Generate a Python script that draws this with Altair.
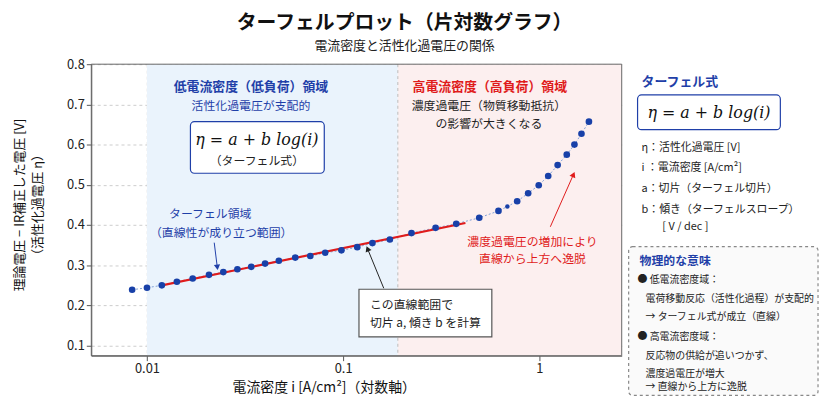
import math
import altair as alt
import pandas as pd

FONT = "Noto Sans CJK JP"
BLUE = "#1f3fa8"
RED = "#e01b1b"

# measured points
current = [0.0084, 0.010, 0.0119, 0.0142, 0.0171, 0.0207, 0.0245, 0.0289, 0.034, 0.040,
           0.047, 0.057, 0.068, 0.081, 0.098, 0.118, 0.141, 0.173, 0.223, 0.296, 0.377,
           0.494, 0.619, 0.687, 0.771, 0.877, 0.993, 1.11, 1.24, 1.38, 1.51, 1.64, 1.79]
voltage = [0.239, 0.244, 0.250, 0.259, 0.267, 0.276, 0.283, 0.290, 0.296, 0.304,
           0.311, 0.319, 0.323, 0.331, 0.337, 0.345, 0.355, 0.364, 0.380, 0.393, 0.403,
           0.418, 0.435, 0.446, 0.459, 0.479, 0.499, 0.522, 0.549, 0.575, 0.600, 0.627, 0.657]
point_size = [45] * 23 + [20] + [45] * 9

fit_x = [0.0119, 0.42]
fit_y = [0.250, 0.405]

low_region = [0.01, 0.19]
high_region = [0.19, 2.63]

x_dom = [0.0052, 2.63]
y_dom = [0.075, 0.8]
W, H = 535, 294

df = pd.DataFrame({"i": current, "v": voltage, "s": point_size})
xs = alt.Scale(type="log", domain=x_dom, nice=False)
ys = alt.Scale(domain=y_dom, nice=False, zero=False)

regions = pd.DataFrame({"x": [low_region[0], high_region[0]], "x2": [low_region[1], high_region[1]],
                        "c": ["#eaf3fc", "#fcefef"]})
bg = alt.Chart(regions).mark_rect().encode(
    x=alt.X("x:Q", scale=xs), x2="x2", y=alt.value(0), y2=alt.value(H),
    color=alt.Color("c:N", scale=None))

divider = alt.Chart(pd.DataFrame({"x": [low_region[1]]})).mark_rule(
    strokeDash=[3, 3], color="#bbbbbb").encode(x=alt.X("x:Q", scale=xs))

dotted = alt.Chart(df).mark_line(strokeDash=[2, 2], color="#7f9fd6", strokeWidth=1).encode(
    x=alt.X("i:Q", scale=xs), y=alt.Y("v:Q", scale=ys))

fit = alt.Chart(pd.DataFrame({"i": fit_x, "v": fit_y})).mark_line(color=RED, strokeWidth=2.2).encode(
    x=alt.X("i:Q", scale=xs), y=alt.Y("v:Q", scale=ys))

points = alt.Chart(df).mark_circle(color="#1840a8", opacity=1).encode(
    x=alt.X("i:Q", scale=xs,
            axis=alt.Axis(values=[0.01, 0.1, 1], format="~g", title=None, grid=True,
                          gridDash=[3, 3], gridColor="#cccccc", labelFont=FONT, labelFontSize=13,
                          labelColor="#222", tickColor="#555", domainColor="#555")),
    y=alt.Y("v:Q", scale=ys,
            axis=alt.Axis(values=[0.1, 0.2, 0.3, 0.4, 0.5, 0.6, 0.7, 0.8], format=".1f", title=None,
                          grid=True, gridDash=[3, 3], gridColor="#cccccc", labelFont=FONT,
                          labelFontSize=13, labelColor="#222", tickColor="#555", domainColor="#555")),
    size=alt.Size("s:Q", scale=None))


def txt(s, x, y, size=12, color="#222", weight="normal", align="center", font=FONT,
        style="normal", angle=0):
    return alt.Chart(pd.DataFrame({"t": [s]})).mark_text(
        fontSize=size, color=color, fontWeight=weight, align=align, font=font,
        fontStyle=style, angle=angle, baseline="middle").encode(
        text="t:N", x=alt.value(x), y=alt.value(y))


def box(x1, y1, x2, y2, stroke, dash=None, fill="white", r=4, sw=1.2):
    kw = dict(stroke=stroke, fill=fill, cornerRadius=r, strokeWidth=sw)
    if dash:
        kw["strokeDash"] = dash
    return alt.Chart(pd.DataFrame({"a": [0]})).mark_rect(**kw).encode(
        x=alt.value(x1), x2=alt.value(x2), y=alt.value(y1), y2=alt.value(y2))


def arrow(x1, y1, x2, y2, color):
    ang = math.degrees(math.atan2(x2 - x1, -(y2 - y1))) % 360
    line = alt.Chart(pd.DataFrame({"a": [0]})).mark_rule(color=color, strokeWidth=1).encode(
        x=alt.value(x1), y=alt.value(y1), x2=alt.value(x2), y2=alt.value(y2))
    head = alt.Chart(pd.DataFrame({"a": [0]})).mark_point(
        shape="triangle", filled=True, color=color, size=40, angle=ang, opacity=1).encode(
        x=alt.value(x2), y=alt.value(y2))
    return [line, head]


frame = box(0, 0, W, H, "#666", fill="transparent", r=0, sw=1)
EQ = "DejaVu Serif"

layers = [bg, divider, dotted, fit, points, frame]
layers += [
    txt("ターフェルプロット（片対数グラフ）", 316, -41, size=20, weight="bold", color="#111"),
    txt("電流密度と活性化過電圧の関係", 316, -18, size=13, color="#222"),
    txt("低電流密度（低負荷）領域", 161, 23, size=13, color=BLUE, weight="bold"),
    txt("活性化過電圧が支配的", 161, 42, size=12, color=BLUE),
    box(100, 58, 235, 110, BLUE),
    txt("η = a + b log(i)", 167, 77, size=16, font=EQ, style="italic", color="#111"),
    txt("（ターフェル式）", 167, 98, size=12),
    txt("ターフェル領域", 120, 151, size=12, color=BLUE),
    txt("（直線性が成り立つ範囲）", 131, 170, size=12, color=BLUE),
    txt("高電流密度（高負荷）領域", 402, 23, size=13, color=RED, weight="bold"),
    txt("濃度過電圧（物質移動抵抗）", 401, 42, size=12),
    txt("の影響が大きくなる", 401, 60, size=12),
    txt("濃度過電圧の増加により", 445, 179, size=12, color=RED),
    txt("直線から上方へ逸脱", 445, 197, size=12, color=RED),
    box(270, 227, 404, 275, "#555", r=0),
    txt("この直線範囲で", 281, 243, size=12, align="left"),
    txt("切片 a, 傾き b を計算", 281, 261, size=12, align="left"),
    txt("電流密度 i [A/cm²]（対数軸）", 235, 327, size=14, color="#111"),
    txt("理論電圧 − IR補正した電圧 [V]", -72, 142, size=13, angle=270, color="#111"),
    txt("（活性化過電圧 η）", -54, 142, size=13, angle=270, color="#111"),
    # right panel
    txt("ターフェル式", 555, 18, size=13, color=BLUE, weight="bold", align="left"),
    box(551, 31, 695, 66, BLUE),
    txt("η = a + b log(i)", 623, 49, size=16, font=EQ, style="italic", color="#111"),
    txt("η：活性化過電圧 [V]", 555, 85, size=11, align="left"),
    txt("i ：電流密度 [A/cm²]", 555, 105, size=11, align="left"),
    txt("a：切片（ターフェル切片）", 555, 126, size=11, align="left"),
    txt("b：傾き（ターフェルスロープ）", 555, 147, size=11, align="left"),
    txt("[ V / dec ]", 576, 164, size=11, align="left"),
    box(542, 184, 733, 334, "#888", dash=[3, 3], fill="#fafafa"),
    txt("物理的な意味", 553, 199, size=12, color=BLUE, weight="bold", align="left"),
    txt("● 低電流密度域：", 551, 218, size=10, align="left"),
    txt("電荷移動反応（活性化過程）が支配的", 559, 237, size=10, align="left"),
    txt("→ ターフェル式が成立（直線）", 559, 255, size=10, align="left"),
    txt("● 高電流密度域：", 551, 275, size=10, align="left"),
    txt("反応物の供給が追いつかず、", 559, 294, size=10, align="left"),
    txt("濃度過電圧が増大", 559, 312, size=10, align="left"),
    txt("→ 直線から上方に逸脱", 559, 326, size=10, align="left"),
]
layers += arrow(124, 180, 127, 204, BLUE)
layers += arrow(463, 164, 486, 112, RED)
layers += arrow(295, 226, 279, 187, "#222")

chart = alt.layer(*layers).properties(
    width=W, height=H,
    autosize=alt.AutoSizeParams(type="none"),
    padding={"left": 84, "top": 55, "right": 200, "bottom": 41},
).configure_view(stroke=None)

chart.save("out.html", embed_options={"renderer": "svg", "actions": False})
